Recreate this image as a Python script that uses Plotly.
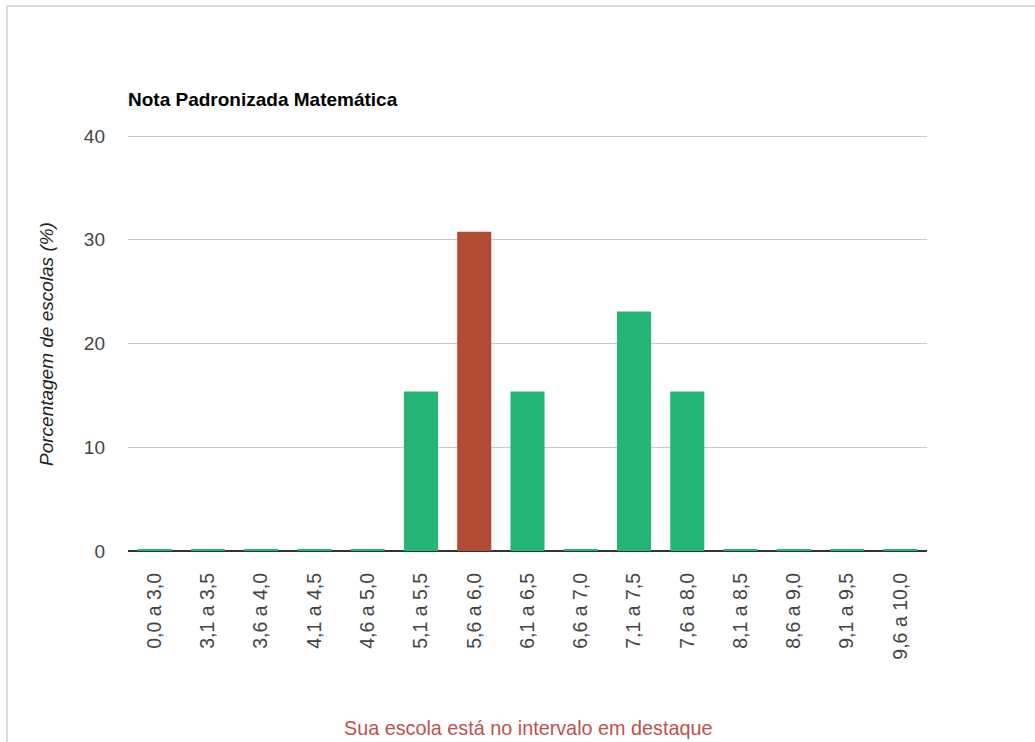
import plotly.graph_objects as go

# Faixas de nota e percentual de escolas em cada faixa
categorias = ["0,0 a 3,0", "3,1 a 3,5", "3,6 a 4,0", "4,1 a 4,5", "4,6 a 5,0",
              "5,1 a 5,5", "5,6 a 6,0", "6,1 a 6,5", "6,6 a 7,0", "7,1 a 7,5",
              "7,6 a 8,0", "8,1 a 8,5", "8,6 a 9,0", "9,1 a 9,5", "9,6 a 10,0"]
percentuais = [0, 0, 0, 0, 0, 15.38, 30.77, 15.38, 0, 23.08, 15.38, 0, 0, 0, 0]
faixa_destaque = "5,6 a 6,0"
y_ticks = [0, 10, 20, 30, 40]

VERDE = "#24b473"
VERMELHO = "#b34a33"
FONTE = "Liberation Sans, Arial, sans-serif"

cores = [VERMELHO if c == faixa_destaque else VERDE for c in categorias]

# plot area in pixels (used to place paper-referenced decorations)
L, R, T, B = 128, 927, 135, 551
PW, PH = R - L, B - T


def px(x):
    return (x - L) / PW


def py(y):
    return (B - y) / PH


fig = go.Figure()
fig.add_trace(go.Bar(
    x=categorias, y=percentuais,
    marker=dict(color=cores, line=dict(width=0)),
    hoverinfo="x+y", showlegend=False,
))
# thin stub so empty ranges remain visible on the baseline
stub = [0.2 if v == 0 else None for v in percentuais]
fig.add_trace(go.Bar(
    x=categorias, y=stub,
    marker=dict(color=VERDE, line=dict(width=0)),
    hoverinfo="skip", showlegend=False,
))

fig.update_layout(
    width=1035, height=742,
    barmode="overlay",
    bargap=0.36,
    plot_bgcolor="white", paper_bgcolor="white",
    margin=dict(l=L, r=1035 - R, t=T, b=742 - B),
    font=dict(family=FONTE, size=19, color="#444444"),
    xaxis=dict(
        type="category", tickangle=-90, showgrid=False, ticks="",
        showline=False, zeroline=False, ticklabelstandoff=17,
        tickfont=dict(family=FONTE, size=19.5, color="#444444"),
        automargin=False,
    ),
    yaxis=dict(
        range=[0, 40.1], tickvals=y_ticks, ticktext=[str(t) for t in y_ticks],
        showgrid=True, gridcolor="#cccccc", gridwidth=1,
        zeroline=True, zerolinecolor="#333333", zerolinewidth=1.5,
        ticks="", ticklabelstandoff=22, automargin=False,
        tickfont=dict(family=FONTE, size=19, color="#444444"),
    ),
    annotations=[
        dict(text="<b>Nota Padronizada Matemática</b>", xref="paper", yref="paper",
             x=px(126), y=py(100), xanchor="left", yanchor="middle",
             showarrow=False,
             font=dict(family=FONTE, size=19, color="#000000")),
        dict(text="<i>Porcentagem de escolas (%)</i>", xref="paper", yref="paper",
             x=px(46), y=py(344), xanchor="center", yanchor="middle",
             textangle=-90, showarrow=False,
             font=dict(family=FONTE, size=19, color="#222222")),
        dict(text="Sua escola está no intervalo em destaque", xref="paper", yref="paper",
             x=px(528), y=py(728), xanchor="center", yanchor="middle",
             showarrow=False,
             font=dict(family=FONTE, size=19.8, color="#c0504d")),
    ],
    shapes=[
        dict(type="line", xref="paper", yref="paper",
             x0=px(7), x1=px(1040), y0=py(6), y1=py(6),
             line=dict(color="#d0d0d0", width=1.5)),
        dict(type="line", xref="paper", yref="paper",
             x0=px(7), x1=px(7), y0=py(6), y1=py(745),
             line=dict(color="#d0d0d0", width=1.5)),
    ],
)

fig.write_html("out.html")
